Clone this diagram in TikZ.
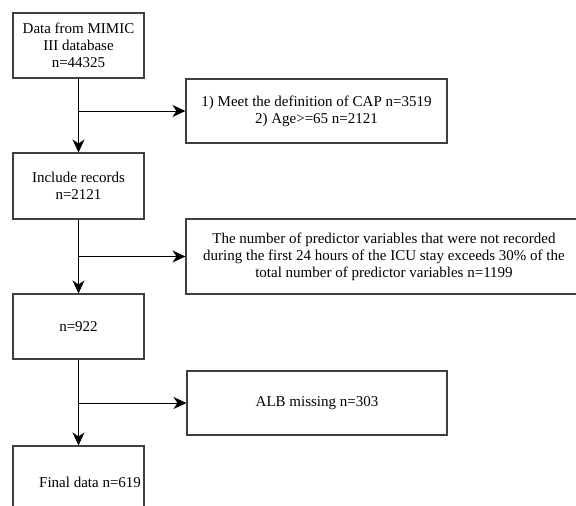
\documentclass[tikz,border=0pt]{standalone}
\usepackage{fontspec}
\setmainfont{Liberation Serif}
\usetikzlibrary{arrows.meta}

\begin{document}
\begin{tikzpicture}[x=1pt, y=-1pt,
    box/.style={draw=black!75, line width=1.1pt, align=center, inner sep=0pt,
        font=\fontsize{15}{17}\selectfont},
    flow/.style={line width=1pt, -{Stealth[length=13pt, width=12pt, inset=4pt]}}]
            \clip (0, 0) rectangle (576, 506);
            \node[box, minimum width=131, minimum height=65] (data) at (78.5, 45.5) {Data from MIMIC\\III database\\n=44325};
            \node[box, minimum width=261, minimum height=64] (crit) at (316.5, 111) {1) Meet the definition of CAP n=3519\\2) Age>=65 n=2121};
            \node[box, minimum width=131, minimum height=66] (incl) at (78.5, 186) {Include records\\n=2121};
            \node[box, minimum width=396, minimum height=75] (pred) at (384, 256.5) {The number of predictor variables that were not recorded\\during the first 24 hours of the ICU stay exceeds 30\% of the\\total number of predictor variables n=1199};
            \node[box, minimum width=131, minimum height=65] (nmid) at (78.5, 326.5) {n=922};
            \node[box, minimum width=260, minimum height=64] (alb) at (317, 403) {ALB missing n=303};
            \node[box, minimum width=131, minimum height=72, text width=125, align=flush right] (final) at (78.5, 482) {Final data n=619};
            \coordinate (b1) at (78.5, 111);
            \coordinate (b2) at (78.5, 256.5);
            \coordinate (b3) at (78.5, 403);
            \draw[flow] (data) -- (incl);
            \draw[flow] (incl) -- (nmid);
            \draw[flow] (nmid) -- (final);
            \draw[flow] (b1) -- (crit.west);
            \draw[flow] (b2) -- (pred.west);
            \draw[flow] (b3) -- (alb.west);
        \end{tikzpicture}
\end{document}
